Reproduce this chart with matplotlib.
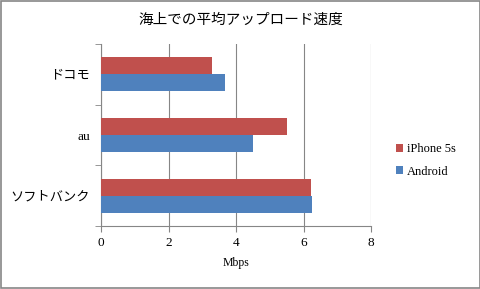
import matplotlib
matplotlib.use("Agg")
import matplotlib.pyplot as plt
import numpy as np

plt.rcParams['font.family'] = ['Liberation Serif', 'Noto Sans CJK JP']

categories = ['ドコモ', 'au', 'ソフトバンク']
iphone = [3.29, 5.50, 6.21]
android = [3.67, 4.49, 6.25]
series_names = ['iPhone 5s', 'Android']
xticks = [0, 2, 4, 6, 8]

red = '#C0504D'
blue = '#4F81BD'
grid_c = '#868686'

fig = plt.figure(figsize=(4.81, 2.89), dpi=100)
ax = fig.add_axes([101/481, 1 - 226/289, 270/481, 182/289])

pos = np.arange(len(categories))[::-1]  # top to bottom
h = 0.28
ax.barh(pos + h/2, iphone, height=h, color=red, label=series_names[0], zorder=3)
ax.barh(pos - h/2, android, height=h, color=blue, label=series_names[1], zorder=3)

ax.set_xlim(0, 8)
ax.set_ylim(-0.5, len(categories) - 0.5)
ax.set_xticks(xticks)
ax.set_xticklabels([str(t) for t in xticks], fontsize=9.5)
ax.set_yticks(pos)
ax.set_yticklabels(categories, fontsize=9.5)
ax.set_yticks(np.arange(-0.5, len(categories)), minor=True)
ax.tick_params(axis='y', which='major', length=0, pad=8)
ax.tick_params(axis='y', which='minor', length=4, color=grid_c, direction='out')
ax.tick_params(axis='x', length=4, color=grid_c, direction='out', pad=4)
ax.xaxis.grid(True, color=grid_c, linewidth=0.8, zorder=0)
for s in ['top', 'right']:
    ax.spines[s].set_visible(False)
for s in ['left', 'bottom']:
    ax.spines[s].set_color(grid_c)
    ax.spines[s].set_linewidth(0.8)
ax.set_xlabel('Mbps', fontsize=8.5, labelpad=6)

fig.text(0.5, 1 - 20/289, '海上での平均アップロード速度', ha='center', va='center',
         fontsize=10.5)

ax.legend(loc='center left', bbox_to_anchor=(1.05, 0.36), frameon=False, fontsize=9,
          handlelength=0.6, handleheight=0.6, handletextpad=0.3, labelspacing=0.85)

fig.patches.append(plt.Rectangle((0.002, 0.003), 0.995, 0.993, transform=fig.transFigure,
                                 fill=False, edgecolor='#868686', linewidth=1.2))

fig.savefig('out.png', dpi=100)
